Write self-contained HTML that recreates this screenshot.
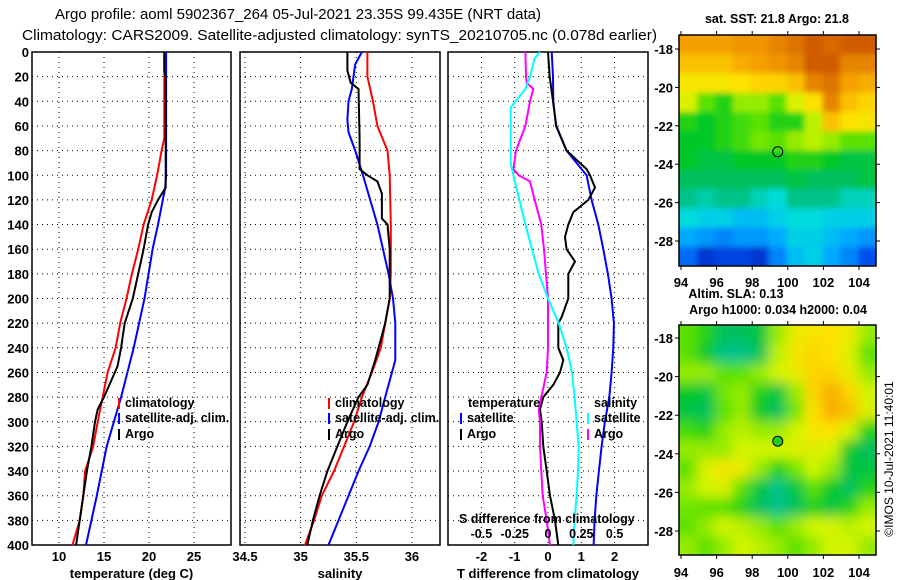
<!DOCTYPE html>
<html><head><meta charset="utf-8"><style>
html,body{margin:0;padding:0;background:#fff;}
svg{display:block;font-family:"Liberation Sans",sans-serif;font-weight:bold;}
</style></head><body>
<svg id="fig" width="900" height="580" viewBox="0 0 900 580" xmlns="http://www.w3.org/2000/svg">
<text x="55" y="19" font-size="15" font-weight="normal" textLength="486" lengthAdjust="spacingAndGlyphs">Argo profile: aoml 5902367_264 05-Jul-2021 23.35S 99.435E (NRT data)</text>
<text x="22" y="40" font-size="15" font-weight="normal" textLength="635" lengthAdjust="spacingAndGlyphs">Climatology: CARS2009. Satellite-adjusted climatology: synTS_20210705.nc (0.078d earlier)</text>
<text x="777" y="23" font-size="12.5" text-anchor="middle">sat. SST: 21.8 Argo: 21.8</text>
<g id="plots"></g>
</svg>
<script>
// ---- depth grid ----
const depthTicks=[0,20,40,60,80,100,120,140,160,180,200,220,240,260,280,300,320,340,360,380,400];
// ---- temperature panel ----
const tempTicks=[10,15,20,25];
const climTD=[0,70,80,100,120,140,160,180,200,220,240,260,280,300,320,340,360,380,400];
const climT=[21.7,21.7,21.4,20.9,20.3,19.4,18.8,18.1,17.5,16.8,16.3,15.4,14.85,14.3,13.8,12.9,12.7,12.3,11.5];
const satTD=[0,100,110,140,160,200,240,280,320,360,400];
const satT=[21.9,21.9,21.8,21.0,20.4,19.5,18.3,16.9,15.3,14.2,13.0];
const argoTD=[0,15,20,110,120,130,140,160,180,200,220,240,255,280,290,300,320,340,360,380,400];
const argoT=[21.7,21.7,21.85,21.85,21.0,20.3,19.9,19.4,18.8,18.2,17.3,16.9,16.5,15.0,14.3,14.0,13.6,13.1,12.7,12.3,11.9];
// ---- salinity panel ----
const salTicks=[34.5,35,35.5,36];
const salTickLabels=["34.5","35","35.5","36"];
const climSD=[0,20,40,60,80,100,140,180,200,220,240,260,280,300,320,340,360,380,400];
const climS=[35.60,35.60,35.65,35.69,35.78,35.80,35.81,35.81,35.80,35.76,35.72,35.64,35.55,35.48,35.39,35.30,35.19,35.12,35.04];
const satSD=[0,10,30,40,55,65,80,100,140,160,180,200,220,250,280,300,320,340,360,380,400];
const satS=[35.55,35.49,35.46,35.43,35.42,35.43,35.49,35.56,35.69,35.74,35.79,35.83,35.85,35.85,35.76,35.70,35.62,35.52,35.43,35.34,35.25];
const argoSD=[0,15,25,30,70,95,100,105,115,135,140,160,200,220,250,270,280,300,320,340,360,380,400];
const argoS=[35.42,35.42,35.45,35.52,35.53,35.53,35.60,35.69,35.73,35.73,35.78,35.80,35.80,35.76,35.67,35.60,35.52,35.42,35.33,35.24,35.17,35.11,35.06];
// ---- difference panel ----
const dTTicks=[-2,-1,0,1,2];
const dSTicks=[-0.5,-0.25,0,0.25,0.5];
const dSTickLabels=["-0.5","-0.25","0","0.25","0.5"];
const dTsatD=[0,20,40,60,80,100,120,140,160,180,200,220,240,260,280,300,320,340,360,380,400];
const dTsat=[0.11,0.15,0.16,0.24,0.56,1.16,1.31,1.51,1.66,1.80,1.91,1.98,1.96,1.91,1.84,1.71,1.61,1.53,1.45,1.40,1.37];
const dTargoD=[0,20,40,60,80,95,100,110,120,130,140,150,160,170,180,200,215,220,240,250,260,270,280,290,300,320,340,360,380,400];
const dTargo=[0,0.05,0.15,0.25,0.56,1.16,1.26,1.41,1.21,0.76,0.61,0.51,0.56,0.81,0.61,0.61,0.41,0.31,0.31,0.46,0.36,0.16,-0.14,-0.24,-0.19,-0.14,-0.04,0.06,0.21,0.31];
const dSargoD=[0,20,25,30,40,60,80,95,100,105,120,140,160,200,240,260,280,290,300,320,340,360,380,400];
const dSargo=[-0.17,-0.165,-0.16,-0.11,-0.135,-0.17,-0.24,-0.26,-0.22,-0.135,-0.10,-0.05,-0.03,0.0,0.0,-0.01,-0.05,-0.07,-0.06,-0.06,-0.05,-0.04,-0.01,0.015];
const dSsatD=[0,5,20,30,45,90,100,140,160,180,200,220,240,260,280,300,320,340,360,380,400];
const dSsat=[-0.06,-0.10,-0.135,-0.17,-0.28,-0.28,-0.26,-0.17,-0.12,-0.07,0.0,0.08,0.14,0.18,0.20,0.215,0.23,0.225,0.215,0.20,0.19];
// ---- maps ----
const lonTicks=[94,96,98,100,102,104];
const latTicks=[-18,-20,-22,-24,-26,-28];
const sstGrid=[
[0.8,0.8,0.8,0.82,0.82,0.85,0.88,0.92,0.9,0.92,0.92],
[0.75,0.75,0.75,0.78,0.8,0.82,0.85,0.92,0.92,0.85,0.85],
[0.68,0.68,0.68,0.7,0.72,0.72,0.75,0.85,0.88,0.8,0.78],
[0.62,0.5,0.45,0.55,0.55,0.5,0.62,0.7,0.85,0.75,0.72],
[0.45,0.42,0.45,0.48,0.5,0.45,0.45,0.58,0.75,0.7,0.68],
[0.42,0.42,0.45,0.48,0.52,0.5,0.55,0.58,0.55,0.5,0.5],
[0.42,0.4,0.4,0.42,0.42,0.42,0.45,0.45,0.42,0.4,0.4],
[0.38,0.38,0.38,0.38,0.38,0.38,0.4,0.38,0.38,0.38,0.4],
[0.35,0.33,0.35,0.35,0.32,0.3,0.35,0.35,0.35,0.32,0.32],
[0.3,0.28,0.28,0.25,0.25,0.28,0.3,0.3,0.28,0.28,0.28],
[0.22,0.2,0.18,0.2,0.2,0.22,0.28,0.28,0.25,0.22,0.2],
[0.15,0.08,0.1,0.1,0.08,0.18,0.25,0.28,0.22,0.18,0.12]];
const slaGrid=[
[.5,.45,.38,.38,.4,.55,.65,.68,.7,.65,.55],
[.5,.42,.35,.35,.38,.58,.68,.72,.7,.62,.5],
[.55,.55,.5,.5,.55,.6,.65,.72,.72,.65,.55],
[.42,.4,.52,.55,.45,.4,.55,.72,.78,.72,.6],
[.4,.38,.5,.55,.42,.38,.52,.7,.78,.75,.62],
[.48,.45,.55,.58,.55,.55,.6,.68,.7,.6,.45],
[.55,.55,.55,.6,.6,.6,.62,.62,.6,.42,.38],
[.5,.62,.68,.65,.55,.45,.52,.6,.55,.4,.4],
[.55,.6,.62,.5,.4,.35,.4,.5,.42,.38,.45],
[.52,.5,.5,.45,.38,.35,.38,.45,.4,.45,.55],
[.5,.55,.6,.58,.55,.5,.55,.6,.6,.58,.6],
[.55,.5,.55,.6,.58,.55,.5,.55,.6,.6,.55]];
const floatLon=99.435, floatLat=-23.35;

const NS="http://www.w3.org/2000/svg";
const root=document.getElementById('plots');
function mk(tag,attrs,parent){const e=document.createElementNS(NS,tag);for(const k in attrs)e.setAttribute(k,attrs[k]);(parent||root).appendChild(e);return e;}
function txt(s,x,y,size,anchor,parent){const t=mk('text',{x:x,y:y,'font-size':size,'text-anchor':anchor||'start'},parent);t.textContent=s;return t;}

const TOP=52,BOT=545;
const yD=d=>TOP+(BOT-TOP)*d/400;

function panel(name,x0,x1,xs,ticks,labels,xtitle){
  const g=mk('g',{});
  
  
  depthTicks.forEach(d=>{
    if(d>0&&d<400){const l=mk('line',{x1:x0,x2:x1,y1:yD(d),y2:yD(d),stroke:'#000','stroke-width':1,'stroke-dasharray':'1,4'},g);
    }
  });
  ticks.forEach((v,i)=>{
    const x=xs(v);
    if(x>x0+1&&x<x1-1){const l=mk('line',{x1:x,x2:x,y1:TOP,y2:BOT,stroke:'#000','stroke-width':1,'stroke-dasharray':'1,4'},g);
    }
    if(labels){const t=txt(labels[i],x,561,13,'middle',g);
    }
  });
  const r=mk('rect',{x:x0,y:TOP,width:x1-x0,height:BOT-TOP,fill:'none',stroke:'#000','stroke-width':1.5},g);
  
  if(xtitle){const t=txt(xtitle,(x0+x1)/2,578,13,'middle',g);
  }
  return g;
}
function curve(g,name,ds,vs,xs,color){
  const pts=ds.map((d,i)=>xs(vs[i]).toFixed(1)+','+yD(d).toFixed(1)).join(' ');
  const p=mk('polyline',{points:pts,fill:'none',stroke:color,'stroke-width':2},g);
  
}
function legend(g,x,y,color,label){
  const l=mk('line',{x1:x,x2:x,y1:y-9,y2:y+2,stroke:color,'stroke-width':2},g);
  
  const t=txt(label,x+6,y,12.5,'start',g);
  
}

depthTicks.forEach(d=>{const t=txt(String(d),29,yD(d)+5,13,'end');
});

// Temperature
const xT=v=>59+(v-10)*9;
const gT=panel('temperature-panel',32,231,xT,tempTicks,tempTicks.map(String),'temperature (deg C)');
curve(gT,'temp-climatology-line',climTD,climT,xT,'#f00');
curve(gT,'temp-satellite-line',satTD,satT,xT,'#00f');
curve(gT,'temp-argo-line',argoTD,argoT,xT,'#000');
legend(gT,119,407,'#f00','climatology');legend(gT,119,422,'#00f','satellite-adj. clim.');legend(gT,119,438,'#000','Argo');

// Salinity
const xS=v=>245+(v-34.5)*111.3;
const gS=panel('salinity-panel',240,440,xS,salTicks,salTickLabels,'salinity');
curve(gS,'sal-climatology-line',climSD,climS,xS,'#f00');
curve(gS,'sal-satellite-line',satSD,satS,xS,'#00f');
curve(gS,'sal-argo-line',argoSD,argoS,xS,'#000');
legend(gS,329,407,'#f00','climatology');legend(gS,329,422,'#00f','satellite-adj. clim.');legend(gS,329,438,'#000','Argo');

// Differences
const xDT=v=>548+v*33.3;
const xDS=v=>548+v*133.2;
const gD=panel('difference-panel',448,648,xDT,dTTicks,dTTicks.map(String),'T difference from climatology');
curve(gD,'dT-satellite-line',dTsatD,dTsat,xDT,'#00f');
curve(gD,'dT-argo-line',dTargoD,dTargo,xDT,'#000');
curve(gD,'dS-argo-line',dSargoD,dSargo,xDS,'#f0f');
curve(gD,'dS-satellite-line',dSsatD,dSsat,xDS,'#0ff');
{const t=txt('temperature',468,407,12.5,'start',gD);}
{const t=txt('salinity',594,407,12.5,'start',gD);}
legend(gD,461,422,'#00f','satellite');legend(gD,461,438,'#000','Argo');
legend(gD,588,422,'#0ff','satellite');legend(gD,588,438,'#f0f','Argo');
{const t=txt('S difference from climatology',459,523,12.5,'start',gD);}
dSTicks.forEach((v,i)=>{const t=txt(dSTickLabels[i],xDS(v),538,12.5,'middle',gD);
});

// colormaps
const stops=[[0,[0,10,150]],[0.12,[0,80,240]],[0.22,[0,170,255]],[0.3,[0,220,220]],[0.36,[0,190,120]],[0.42,[0,200,40]],[0.5,[90,225,0]],[0.6,[210,245,0]],[0.7,[255,225,0]],[0.8,[245,160,0]],[0.9,[215,105,0]],[1,[180,40,0]]];
function cmap(v){for(let i=1;i<stops.length;i++){if(v<=stops[i][0]){const a=stops[i-1],b=stops[i],t=(v-a[0])/(b[0]-a[0]);
return 'rgb('+a[1].map((c,k)=>Math.round(c+(b[1][k]-c)*t)).join(',')+')';}}return 'rgb(180,40,0)';}

function map(name,grid,x0,x1,y0,y1,lat18y,lat28y,blurId,labelY,filledDot){
  const g=mk('g',{});
  
  const lonX=l=>681+(l-94)*(859-681)/10;
  const latY=l=>lat18y+(-18-l)*(lat28y-lat18y)/10;
  const nr=grid.length,nc=grid[0].length,cw=(x1-x0)/nc,ch=(y1-y0)/nr;
  const cp=mk('clipPath',{id:'clip-'+name},g);mk('rect',{x:x0,y:y0,width:x1-x0,height:y1-y0},cp);
  const outer=mk('g',{'clip-path':'url(#clip-'+name+')'},g);
  const cg=mk('g',{filter:'url(#'+blurId+')'},outer);
  grid.forEach((row,r)=>row.forEach((v,c)=>{
    const cell=mk('rect',{x:(x0+c*cw-(c==0?10:0)).toFixed(1),y:(y0+r*ch-(r==0?10:0)).toFixed(1),width:(cw+0.6+(c==0||c==nc-1?10:0)).toFixed(1),height:(ch+0.6+(r==0||r==nr-1?10:0)).toFixed(1),fill:cmap(v)},cg);
    
  }));
  const fr=mk('rect',{x:x0,y:y0,width:x1-x0,height:y1-y0,fill:'none',stroke:'#000','stroke-width':1.5},g);
  
  lonTicks.forEach(l=>{const x=lonX(l);mk('line',{x1:x,x2:x,y1:y1,y2:y1+4,stroke:'#000'},g);mk('line',{x1:x,x2:x,y1:y0,y2:y0-4,stroke:'#000'},g);
    const t=txt(String(l),x,labelY,13,'middle',g);});
  latTicks.forEach(l=>{const y=latY(l);mk('line',{x1:x0-4,x2:x0,y1:y,y2:y,stroke:'#000'},g);mk('line',{x1:x1,x2:x1+4,y1:y,y2:y,stroke:'#000'},g);
    const t=txt(String(l),673,y+5,13,'end',g);});
  const dot=mk('circle',{cx:lonX(floatLon),cy:latY(floatLat),r:5,fill:filledDot?'#2c2':'none',stroke:'#000','stroke-width':1},g);
  
}
const defs=mk('defs',{});
const f=mk('filter',{id:'blur6',x:'-0.1',y:'-0.1',width:'1.2',height:'1.2'},defs);mk('feGaussianBlur',{stdDeviation:6},f);
const f2=mk('filter',{id:'blur3',x:'-0.1',y:'-0.1',width:'1.2',height:'1.2'},defs);mk('feGaussianBlur',{stdDeviation:3},f2);
map('sst-map',sstGrid,679,876,35,266,49,241,'blur3',287,false);
map('sla-map',slaGrid,679,876,325,555,338,531,'blur6',577,true);
{const t=txt('Altim. SLA: 0.13',736,298,12.5,'middle');}
{const t=txt('Argo h1000: 0.034 h2000: 0.04',778,314,12.5,'middle');}
{const t=mk('text',{x:0,y:0,'font-size':12,'font-weight':'normal','text-anchor':'middle',transform:'translate(893,459) rotate(-90)'});t.textContent='©IMOS 10-Jul-2021 11:40:01';
}
</script>
</body></html>
